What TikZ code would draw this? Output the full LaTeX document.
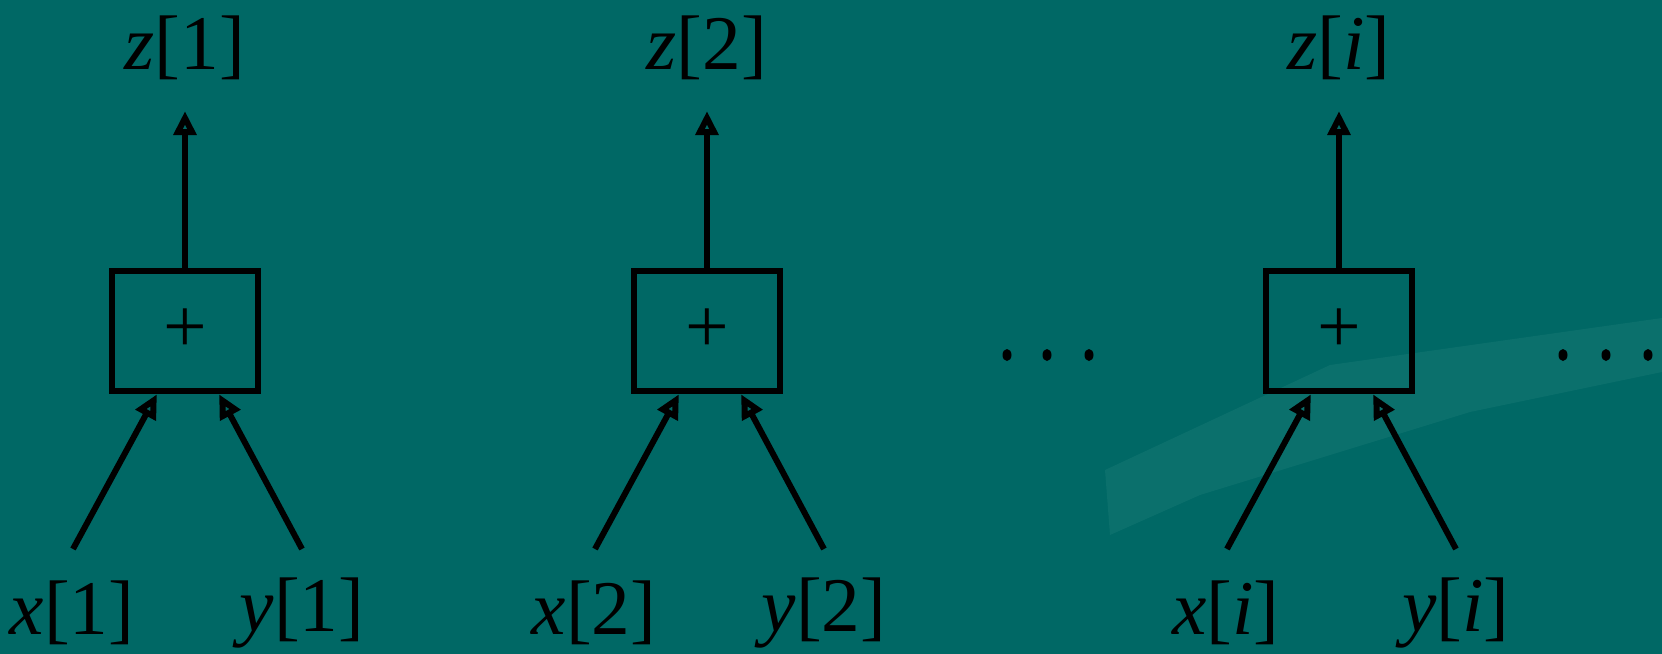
\documentclass[tikz,border=0pt]{standalone}
\usepackage{fontspec}
\setmainfont{Liberation Serif}
\usetikzlibrary{arrows.meta}
\definecolor{slidebg}{RGB}{0,104,101}
\definecolor{slidelight}{RGB}{28,124,120}
\tikzset{
  addbox/.style={draw=black, line width=1.8pt, minimum width=1.46cm, minimum height=1.2cm, inner sep=0pt},
  sig/.style={line width=1.7pt, -{Triangle[open, length=0.24cm, width=0.22cm]}},
  lbl/.style={inner sep=0pt, font=\fontsize{22}{24}\selectfont}
}

\begin{document}
\begin{tikzpicture}[x=0.01cm, y=-0.01cm]
    % Background
    \fill[slidebg] (0,0) rectangle (1662,654);
    \useasboundingbox (0,0) rectangle (1662,654);
    \fill[slidelight, opacity=0.4] (1105,470) -- (1330,365) -- (1662,318) -- (1662,372)
        -- (1470,412) -- (1200,495) -- (1110,535) -- cycle;

    % Adder blocks
    \foreach \cx/\n/\t in {185/1/1, 707/2/2, 1339/i/\textit{i}} {
        \node[addbox] (add\n) at (\cx,331) {\fontsize{22}{24}\selectfont +};
        \node[lbl] (z\n) at (\cx,48) {\textit{z}[\t]};
        \node[lbl] (x\n) at (\cx-113,613) {\textit{x}[\t]};
        \node[lbl] (y\n) at (\cx+117,613) {\textit{y}[\t]};
        \coordinate (top\n) at (\cx,111);
        \coordinate (xin\n) at (\cx-112,549);
        \coordinate (yin\n) at (\cx+117,549);

        \draw[sig] (add\n.north) -- (top\n);
        \draw[sig] (xin\n) -- ([xshift=-0.28cm]add\n.south);
        \draw[sig] (yin\n) -- ([xshift=0.34cm]add\n.south);
    }

    % Dots
    \foreach \dx in {1007,1047,1089,1563,1606,1648}
        \fill[black] (\dx,355) ellipse (0.045cm and 0.06cm);
\end{tikzpicture}
\end{document}
